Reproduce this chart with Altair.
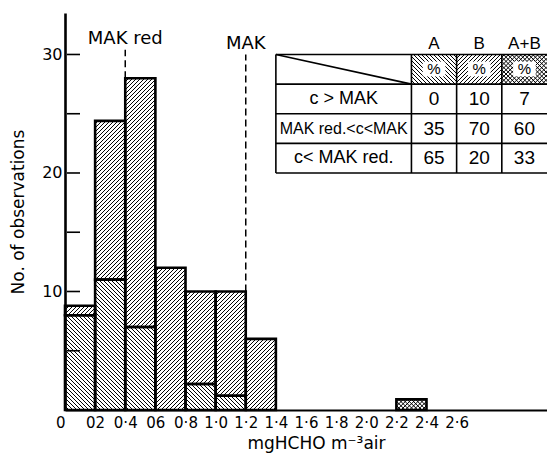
import math
import altair as alt
import pandas as pd

# ---------------- data ----------------
bin_start = [0.0, 0.2, 0.4, 0.6, 0.8, 1.0, 1.2, 2.2]
bin_width = 0.2
count_a = [8.0, 11.0, 7.0, 0.0, 2.2, 1.2, 0.0, 0.0]     # lower part, "\\\\" hatch
count_b = [0.8, 13.4, 21.0, 12.0, 7.8, 8.8, 6.0, 0.0]   # upper part, "////" hatch
count_ab = [0.0, 0.0, 0.0, 0.0, 0.0, 0.0, 0.0, 0.9]     # cross hatch

x_tick_values = [0.0, 0.2, 0.4, 0.6, 0.8, 1.0, 1.2, 1.4, 1.6, 1.8, 2.0, 2.2, 2.4, 2.6]
x_tick_labels = ["0\u00a0\u00a0\u00a0", "02", "0·4", "06", "0·8", "1·0", "1·2", "1·4",
                 "1·6", "1·8", "2·0", "2·2", "2·4", "2·6"]
y_label_values = [10, 20, 30]
y_tick_values = [5, 10, 15, 20, 25, 30]

limit_names = ["MAK red", "MAK"]
limit_values = [0.4, 1.2]

table_cols = ["A", "B", "A+B"]
table_rows = ["c > MAK", "MAK red.<c<MAK", "c< MAK red."]
pct_a = [0, 35, 65]
pct_b = [10, 70, 20]
pct_ab = [7, 60, 33]

# ---------------- layout ----------------
W, H = 482, 397
XMAX, YMAX = 3.2, 33.5
KX, KY = W / XMAX, H / YMAX
STEP = 4.0
CSTEP = 4.2

TX = [1.4, 2.3, 2.6, 2.9, 3.2]
TY = [30.0, 27.5, 25.0, 22.5, 20.0]


def hatch(x0, x1, y0, y1, direction, step=STEP):
    u0, u1, v0, v1 = x0 * KX, x1 * KX, y0 * KY, y1 * KY
    out = []
    if direction == "fwd":  # v = u + c
        c = math.ceil((v0 - u1) / step) * step
        while c <= v1 - u0:
            lo, hi = max(u0, v0 - c), min(u1, v1 - c)
            if hi - lo > 0.4:
                out.append(dict(x=lo / KX, y=(lo + c) / KY, x2=hi / KX, y2=(hi + c) / KY))
            c += step
    else:  # v = -u + c
        c = math.ceil((u0 + v0) / step) * step
        while c <= u1 + v1:
            lo, hi = max(u0, c - v1), min(u1, c - v0)
            if hi - lo > 0.4:
                out.append(dict(x=lo / KX, y=(c - lo) / KY, x2=hi / KX, y2=(c - hi) / KY))
            c += step
    return out


segs = []
for i, x0 in enumerate(bin_start):
    base = 0.0
    for arr, pat in [(count_a, "back"), (count_b, "fwd"), (count_ab, "cross")]:
        v = arr[i]
        if v > 0:
            segs.append(dict(x0=x0, x1=x0 + bin_width, y0=base, y1=base + v, pattern=pat))
            base += v
seg_df = pd.DataFrame(segs)

hatch_rows = []


def add_hatch(x0, x1, y0, y1, pat):
    if pat in ("back", "cross"):
        hatch_rows.extend(hatch(x0, x1, y0, y1, "back", STEP if pat == "back" else CSTEP))
    if pat in ("fwd", "cross"):
        hatch_rows.extend(hatch(x0, x1, y0, y1, "fwd", STEP if pat == "fwd" else CSTEP))


for s in segs:
    add_hatch(s["x0"], s["x1"], s["y0"], s["y1"], s["pattern"])
for j, pat in enumerate(["back", "fwd", "cross"]):
    add_hatch(TX[j + 1], TX[j + 2], TY[1], TY[0], pat)
hatch_df = pd.DataFrame(hatch_rows)

FONT = "DejaVu Sans"
TFONT = "Liberation Sans"

xs = alt.Scale(domain=[0, XMAX], nice=False, zero=False)
ys = alt.Scale(domain=[0, YMAX], nice=False, zero=False)

label_expr = "[" + ",".join("'" + s + "'" for s in x_tick_labels) + "][round(datum.value*5)]"

X_AXIS = alt.Axis(values=x_tick_values, labelExpr=label_expr, ticks=False,
                  domainColor="black", domainWidth=2, labelColor="black",
                  labelFont=FONT, labelFontSize=15, labelPadding=5,
                  labelFlush=False, labelOverlap=False,
                  labelAlign={"condition": {"test": "datum.value == 0", "value": "right"},
                              "value": "center"},
                  titleFont=FONT, titleFontSize=17, titleFontWeight="normal",
                  titleColor="black", titlePadding=5, titleX=251, grid=False)
Y_AXIS = alt.Axis(values=y_label_values, ticks=False, domainColor="black",
                  domainWidth=2.6, labelColor="black", labelFont=FONT,
                  labelFontSize=16, labelPadding=3, grid=False,
                  titleFont=FONT, titleFontSize=17, titleFontWeight="normal",
                  titleColor="black", titlePadding=14)
X_TITLE = "mgHCHO m⁻³air"
Y_TITLE = "No. of observations"


def X(field):
    return alt.X(field, type="quantitative", scale=xs, axis=X_AXIS, title=X_TITLE)


def Y(field):
    return alt.Y(field, type="quantitative", scale=ys, axis=Y_AXIS, title=Y_TITLE)


hatch_layer = alt.Chart(hatch_df).mark_rule(color="black", strokeWidth=1.0).encode(
    x=X("x"), y=Y("y"), x2="x2:Q", y2="y2:Q",
)

bars = alt.Chart(seg_df).mark_rect(fill=None, stroke="black", strokeWidth=2.6).encode(
    x=X("x0"), x2="x1:Q", y=Y("y0"), y2="y1:Q",
)

tick_df = pd.DataFrame({"v": y_tick_values})
ticks = alt.Chart(tick_df).mark_rule(color="black", strokeWidth=1.6).encode(
    x=alt.value(2), x2=alt.value(15), y=Y("v"),
)

limit_df = pd.DataFrame({"name": limit_names, "v": limit_values,
                         "top": [30.4, 30.0], "bottom": [28.0, 10.0],
                         "ly": [31.3, 30.85]})
limit_lines = alt.Chart(limit_df).mark_rule(color="black", strokeWidth=1.5,
                                            strokeDash=[7, 4]).encode(
    x=X("v"), y=Y("bottom"), y2="top:Q",
)
limit_text = alt.Chart(limit_df).mark_text(font=FONT, fontSize=18, color="black",
                                           baseline="middle", align="center").encode(
    x=X("v"), y=Y("ly"), text="name:N",
)

# table grid
grid_rows = []
for yy in TY:
    grid_rows.append(dict(x=TX[0], y=yy, x2=TX[-1] + 0.05, y2=yy))
for xx in TX[:-1]:
    grid_rows.append(dict(x=xx, y=TY[-1], x2=xx, y2=TY[0]))
grid_rows.append(dict(x=TX[0], y=TY[0], x2=TX[1], y2=TY[1]))
grid_df = pd.DataFrame(grid_rows)
grid = alt.Chart(grid_df).mark_rule(color="black", strokeWidth=1.6, clip=True).encode(
    x=X("x"), y=Y("y"), x2="x2:Q", y2="y2:Q",
)

col_centers = [(TX[j + 1] + TX[j + 2]) / 2 for j in range(3)]
row_centers = [(TY[i + 1] + TY[i + 2]) / 2 for i in range(3)]
head_y = (TY[0] + TY[1]) / 2

pct_box_df = pd.DataFrame({"x": [c - 0.075 for c in col_centers],
                           "x2": [c + 0.075 for c in col_centers],
                           "y": [head_y - 0.6] * 3, "y2": [head_y + 0.65] * 3})
pct_box = alt.Chart(pct_box_df).mark_rect(fill="white").encode(
    x=X("x"), x2="x2:Q", y=Y("y"), y2="y2:Q",
)
pct_text = alt.Chart(pd.DataFrame({"x": col_centers, "y": [head_y] * 3,
                                   "t": ["%"] * 3})).mark_text(
    font=TFONT, fontSize=15, color="black", baseline="middle").encode(
    x=X("x"), y=Y("y"), text="t:N",
)
head_text = alt.Chart(pd.DataFrame({"x": col_centers, "y": [30.85] * 3,
                                    "t": table_cols})).mark_text(
    font=TFONT, fontSize=17, color="black", baseline="middle").encode(
    x=X("x"), y=Y("y"), text="t:N",
)

cell_rows = []
for i in range(3):
    for j, arr in enumerate([pct_a, pct_b, pct_ab]):
        cell_rows.append(dict(x=col_centers[j], y=row_centers[i], t=str(arr[i])))
cell_df = pd.DataFrame(cell_rows)
row_label_df = pd.DataFrame({"x": [(TX[0] + TX[1]) / 2] * 3, "y": row_centers,
                             "t": table_rows, "fs": [18, 16, 18]})
cell_text = alt.Chart(cell_df).mark_text(font=TFONT, fontSize=19, color="black",
                                         baseline="middle").encode(
    x=X("x"), y=Y("y"), text="t:N",
)
row_text = alt.Chart(row_label_df).mark_text(font=TFONT, color="black",
                                             baseline="middle").encode(
    x=X("x"), y=Y("y"), text="t:N",
    size=alt.Size("fs:Q", scale=None, legend=None),
)

chart = alt.layer(
    hatch_layer, pct_box, pct_text, bars, ticks, limit_lines, limit_text,
    grid, head_text, cell_text, row_text,
).properties(
    width=W, height=H,
    autosize=alt.AutoSizeParams(type="none"),
    padding={"left": 65, "top": 13, "right": 0, "bottom": 44},
    background="white",
).configure_view(stroke=None)

chart.save("out.html", embed_options={"renderer": "svg", "actions": False})
